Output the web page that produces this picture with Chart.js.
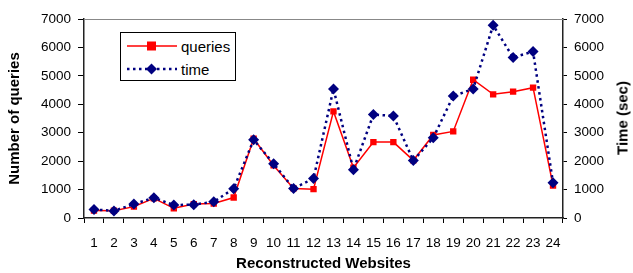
<!DOCTYPE html>
<html lang="en">
<head>
    <meta charset="UTF-8">
    <title>Queries and Time per Website</title>
    <script src="https://cdn.jsdelivr.net/npm/chart.js"></script>
    <style>
        body { margin: 0; background: #fff; }
        #wrap { position: relative; width: 633px; height: 273px; }
        #legend {
            position: absolute; left: 120px; top: 32px; width: 116px; height: 49px;
            border: 1px solid #000; background: #fff; box-sizing: border-box;
            font-family: "Liberation Sans", Arial, sans-serif; font-size: 15px; color: #000;
        }
        .item { position: absolute; left: 6px; height: 20px; display: flex; align-items: center; }
        .item span { margin-left: 4px; }
        #rightTitle {
            position: absolute; left: 622px; top: 118px; transform: translate(-50%, -50%) rotate(-90deg);
            font-family: "Liberation Sans", Arial, sans-serif; font-size: 15px; font-weight: bold;
            white-space: nowrap; color: #000;
        }
    </style>
</head>
<body>
    <div id="wrap">
        <canvas id="chart" width="633" height="273"></canvas>
        <div id="legend">
            <div class="item" style="top:3px">
                <svg width="50" height="14"><line x1="0" y1="7" x2="50" y2="7" stroke="#ff0000" stroke-width="1.5"/><rect x="20" y="2.5" width="9" height="9" fill="#ff0000"/></svg>
                <span>queries</span>
            </div>
            <div class="item" style="top:26px">
                <svg width="50" height="14"><line x1="0" y1="7" x2="50" y2="7" stroke="#000080" stroke-width="2.5" stroke-dasharray="2.5,3.5"/><polygon points="24.5,1.5 30,7 24.5,12.5 19,7" fill="#000080"/></svg>
                <span>time</span>
            </div>
        </div>
        <div id="rightTitle">Time (sec)</div>
    </div>
    <script>
        // websites 1..24
        var websites = ['1','2','3','4','5','6','7','8','9','10','11','12','13','14','15','16','17','18','19','20','21','22','23','24'];
        // number of queries
        var queries = [260, 255, 400, 690, 340, 490, 510, 720, 2790, 1850, 1040, 1015, 3750, 1770, 2670, 2670, 2030, 2920, 3045, 4865, 4350, 4445, 4585, 1145];
        // time in seconds
        var time = [300, 250, 490, 710, 455, 470, 570, 1030, 2750, 1910, 1040, 1390, 4540, 1700, 3640, 3590, 2020, 2820, 4290, 4540, 6780, 5645, 5855, 1240];
        var yTicks = [0, 1000, 2000, 3000, 4000, 5000, 6000, 7000];

        var font = { family: '"Liberation Sans", Arial, sans-serif', size: 13.5 };
        var titleFont = { family: '"Liberation Sans", Arial, sans-serif', size: 15, weight: 'bold' };

        // grey line along the top of the plot
        var topLine = {
            id: 'topLine',
            beforeDatasetsDraw: function (chart) {
                var a = chart.chartArea, ctx = chart.ctx;
                ctx.save();
                ctx.strokeStyle = '#888';
                ctx.lineWidth = 1;
                ctx.beginPath();
                ctx.moveTo(a.left, a.top + 0.5);
                ctx.lineTo(a.right, a.top + 0.5);
                ctx.stroke();
                ctx.restore();
            }
        };

        function fixedTicks(scale) {
            scale.ticks = yTicks.map(function (v) { return { value: v }; });
        }
        function plain(v) { return String(v); }

        new Chart(document.getElementById('chart'), {
            type: 'line',
            data: {
                labels: websites,
                datasets: [{
                    label: 'queries',
                    data: queries,
                    yAxisID: 'y',
                    borderColor: '#ff0000',
                    backgroundColor: '#ff0000',
                    borderWidth: 1.5,
                    pointStyle: 'rect',
                    pointRadius: 4.5,
                    pointBorderWidth: 0,
                    tension: 0,
                    order: 1
                }, {
                    label: 'time',
                    data: time,
                    yAxisID: 'y2',
                    borderColor: '#000080',
                    backgroundColor: '#000080',
                    borderWidth: 2.5,
                    borderDash: [2.5, 3.5],
                    pointStyle: 'rectRot',
                    pointRadius: 5.5,
                    pointBorderWidth: 0,
                    tension: 0,
                    order: 0
                }]
            },
            options: {
                responsive: false,
                animation: false,
                layout: { padding: { top: 19, left: 0, right: 0, bottom: 0 } },
                plugins: { legend: { display: false }, tooltip: { enabled: false } },
                scales: {
                    x: {
                        offset: true,
                        grid: { offset: true, drawOnChartArea: false, color: '#000', tickLength: 5 },
                        border: { color: '#222', width: 1.5 },
                        ticks: { color: '#000', font: font, padding: 12, maxRotation: 0, autoSkip: false },
                        title: { display: true, text: 'Reconstructed Websites', color: '#000', font: titleFont, padding: { top: 4, bottom: 0 } },
                        afterFit: function (s) { s.height = 55; }
                    },
                    y: {
                        position: 'left',
                        min: 0, max: 7000,
                        afterBuildTicks: fixedTicks,
                        grid: { drawOnChartArea: false, color: '#000', tickLength: 6 },
                        border: { color: '#222', width: 1.5 },
                        ticks: { color: '#000', font: font, padding: 7, callback: plain },
                        title: { display: true, text: 'Number of queries', color: '#000', font: titleFont, padding: { top: 6, bottom: 0 } },
                        afterFit: function (s) { s.width = 84; }
                    },
                    y2: {
                        position: 'right',
                        min: 0, max: 7000,
                        afterBuildTicks: fixedTicks,
                        grid: { drawOnChartArea: false, color: '#000', tickLength: 4 },
                        border: { color: '#222', width: 1.5 },
                        ticks: { color: '#000', font: font, padding: 7, callback: plain },
                        title: { display: false },
                        afterFit: function (s) { s.width = 70; }
                    }
                }
            },
            plugins: [topLine]
        });
    </script>
</body>
</html>
